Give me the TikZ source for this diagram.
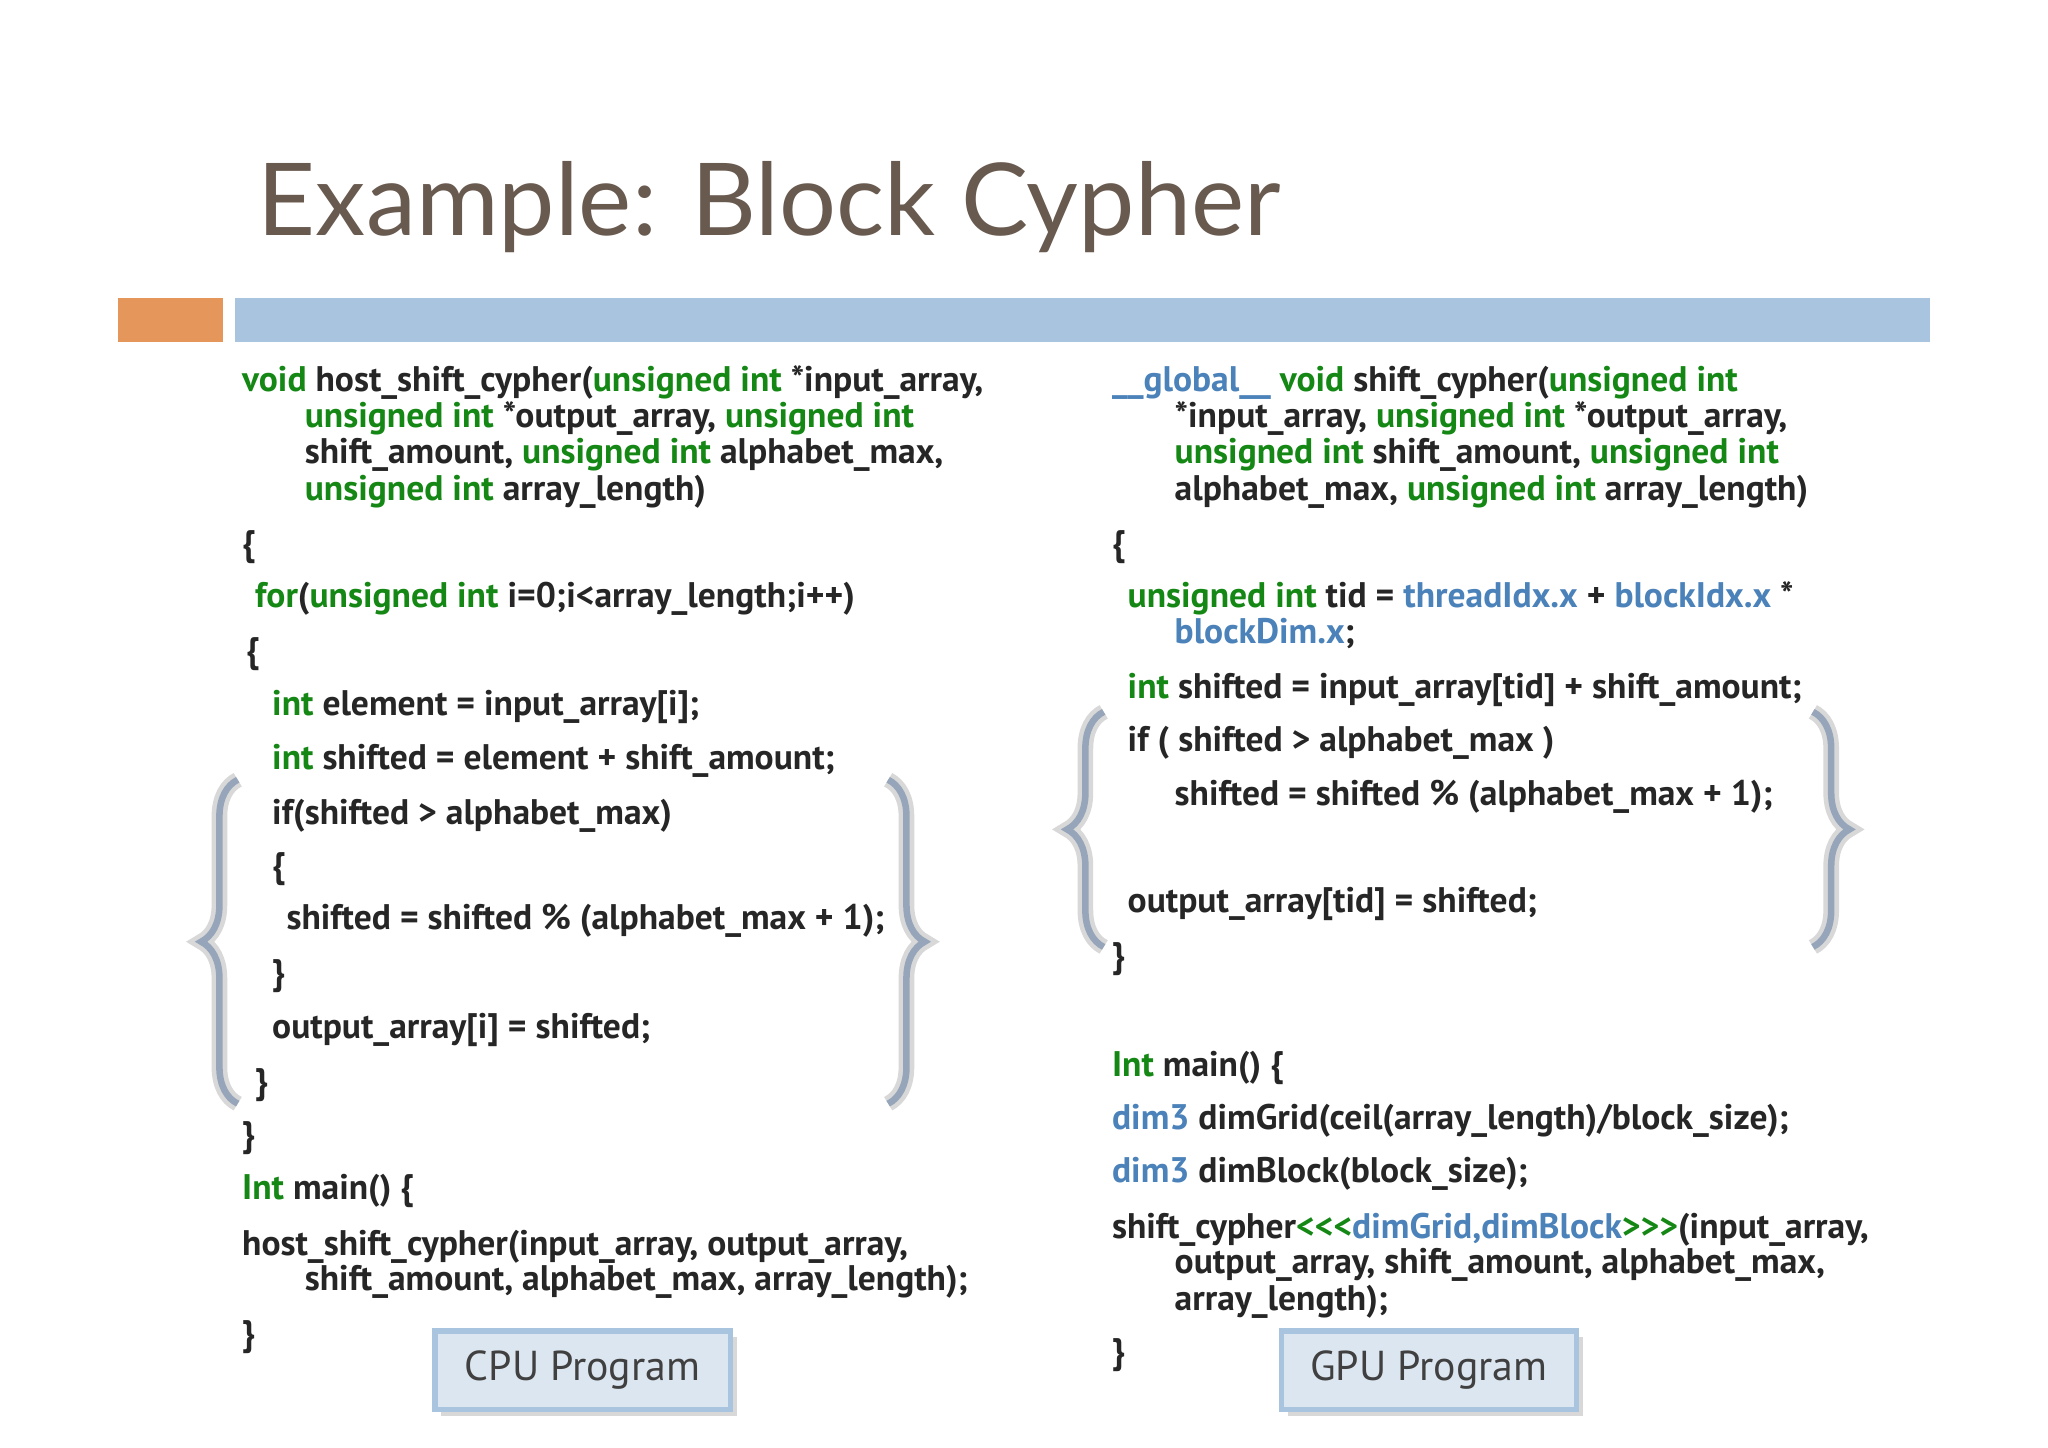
\documentclass[tikz,border=0pt]{standalone}
\usepackage{fontspec}
\setmainfont{PT Sans}
\newfontfamily\titlefont{Lato}
\usetikzlibrary{decorations.pathreplacing,shadows}
\definecolor{kwgreen}{RGB}{20,135,20}
\definecolor{idblue}{RGB}{75,130,185}
\definecolor{titlec}{RGB}{105,90,80}
\definecolor{barorange}{RGB}{229,150,90}
\definecolor{barblue}{RGB}{168,196,222}
\definecolor{bracec}{RGB}{150,165,185}
\definecolor{boxfill}{RGB}{220,230,240}
\newcommand\kw[1]{\textcolor{kwgreen}{#1}}
\newcommand\bl[1]{\textcolor{idblue}{#1}}
\begin{document}
\begin{tikzpicture}[x=0.5pt,y=-0.5pt,
  code/.style={anchor=base west,inner sep=0pt,font=\fontsize{13.6}{15}\selectfont\bfseries,text=black!85},
  brc/.style={decorate,decoration={brace,amplitude=14pt},line width=2.5pt,color=bracec},
  brs/.style={decorate,decoration={brace,amplitude=14pt},line width=6pt,color=black!25,opacity=0.6},
  prog/.style={draw=barblue,line width=2pt,fill=boxfill,minimum width=113pt,minimum height=30pt,
    font=\fontsize{16}{18}\selectfont,text=black!75,drop shadow={opacity=0.3}}]
\path[use as bounding box,fill=white] (0,0) rectangle (1568,1108);
\node[anchor=base west,inner sep=0pt,text=titlec,font=\titlefont\fontsize{38.5}{44}\selectfont] (title) at (197,180) {Example: Block Cypher};
\fill[barorange] (90,228) rectangle (171,262);
\fill[barblue] (180,228) rectangle (1478,262);
% CPU code
\node[code] (a1) at (185,300) {\kw{void} host\_shift\_cypher(\kw{unsigned int} *input\_array,};
\node[code] (a2) at (233,327) {\kw{unsigned int} *output\_array, \kw{unsigned int}};
\node[code] (a3) at (233,355) {shift\_amount, \kw{unsigned int} alphabet\_max,};
\node[code] (a4) at (233,383) {\kw{unsigned int} array\_length)};
\node[code] (a5) at (185,425) {\{};
\node[code] (a6) at (195,465) {\kw{for}(\kw{unsigned int} i=0;i<array\_length;i++)};
\node[code] (a7) at (188,507) {\{};
\node[code] (a8) at (208,548) {\kw{int} element = input\_array[i];};
\node[code] (a9) at (208,589) {\kw{int} shifted = element + shift\_amount;};
\node[code] (a10) at (208,631) {if(shifted > alphabet\_max)};
\node[code] (a11) at (208,672) {\{};
\node[code] (a12) at (219,712) {shifted = shifted \% (alphabet\_max + 1);};
\node[code] (a13) at (208,754) {\}};
\node[code] (a14) at (208,795) {output\_array[i] = shifted;};
\node[code] (a15) at (195,837) {\}};
\node[code] (a16) at (185,878) {\}};
\node[code] (a17) at (185,918) {\kw{Int} main() \{};
\node[code] (a18) at (185,961) {host\_shift\_cypher(input\_array, output\_array,};
\node[code] (a19) at (233,988) {shift\_amount, alphabet\_max, array\_length);};
\node[code] (a20) at (185,1030) {\}};
% GPU code
\node[code] (b1) at (851,300) {\bl{\_\_global\_\_} \kw{void} shift\_cypher(\kw{unsigned int}};
\node[code] (b2) at (899,327) {*input\_array, \kw{unsigned int} *output\_array,};
\node[code] (b3) at (899,355) {\kw{unsigned int} shift\_amount, \kw{unsigned int}};
\node[code] (b4) at (899,383) {alphabet\_max, \kw{unsigned int} array\_length)};
\node[code] (b5) at (851,425) {\{};
\node[code] (b6) at (863,465) {\kw{unsigned int} tid = \bl{threadIdx.x} + \bl{blockIdx.x} *};
\node[code] (b7) at (899,493) {\bl{blockDim.x};};
\node[code] (b8) at (863,535) {\kw{int} shifted = input\_array[tid] + shift\_amount;};
\node[code] (b9) at (863,575) {if ( shifted > alphabet\_max )};
\node[code] (b10) at (899,617) {shifted = shifted \% (alphabet\_max + 1);};
\node[code] (b11) at (863,699) {output\_array[tid] = shifted;};
\node[code] (b12) at (851,741) {\}};
\node[code] (b13) at (851,824) {\kw{Int} main() \{};
\node[code] (b14) at (851,865) {\bl{dim3} dimGrid(ceil(array\_length)/block\_size);};
\node[code] (b15) at (851,905) {\bl{dim3} dimBlock(block\_size);};
\node[code] (b16) at (851,948) {shift\_cypher\kw{<{}<{}<}\bl{dimGrid,dimBlock}\kw{>{}>{}>}(input\_array,};
\node[code] (b17) at (899,975) {output\_array, shift\_amount, alphabet\_max,};
\node[code] (b18) at (899,1003) {array\_length);};
\node[code] (b19) at (851,1044) {\}};
% braces
\foreach \s in {brs,brc}{
  \draw[\s] (182,845) -- (182,597);
  \draw[\s] (680,597) -- (680,845);
  \draw[\s] (845,725) -- (845,545);
  \draw[\s] (1388,545) -- (1388,725);
}
\node[prog] (cpu) at (446,1049) {CPU Program};
\node[prog] (gpu) at (1094,1049) {GPU Program};
\end{tikzpicture}
\end{document}
